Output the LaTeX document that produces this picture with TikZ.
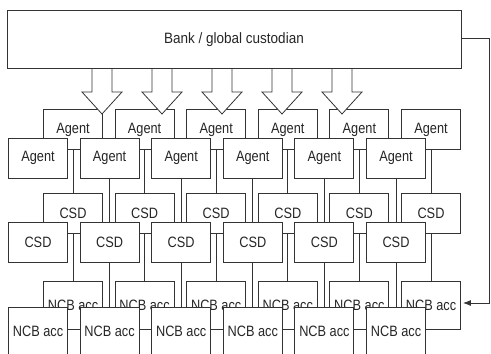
\documentclass[tikz,border=0pt]{standalone}
\usepackage{fontspec}
\newfontfamily\narrowsf[FakeStretch=0.85]{Liberation Sans}
\newfontfamily\banksf[FakeStretch=0.9]{Liberation Sans}
\usetikzlibrary{positioning,arrows.meta}

\begin{document}
\begin{tikzpicture}[x=1pt, y=-1pt, node distance=71.6pt,
                    box/.style={rectangle,draw=black!80,fill=white,line width=0.9pt,
                                minimum width=59pt,minimum height=40pt,inner sep=0pt,
                                text=black!85,font=\narrowsf\fontsize{15pt}{15pt}\selectfont},
                    tall box/.style={box,minimum height=48pt},
                    conn/.style={draw=black!80,line width=0.8pt},
                    big arrow/.style={draw=black!80,fill=white,line width=0.8pt}]

  \useasboundingbox (0,0) rectangle (491,354);

  % bank
  \node[box, minimum width=454pt, minimum height=58pt,
        font=\banksf\fontsize{15pt}{15pt}\selectfont] (bank) at (234,39.5) {Bank / global custodian};

  % agents
  \node[box] (ba1) at (73,129.5) {Agent};
  \node[box] (ba2) [right of=ba1] {Agent};
  \node[box] (ba3) [right of=ba2] {Agent};
  \node[box] (ba4) [right of=ba3] {Agent};
  \node[box] (ba5) [right of=ba4] {Agent};
  \node[box] (ba6) [right of=ba5] {Agent};
  \node[box] (fa1) at (38,158) {Agent};
  \node[box] (fa2) [right of=fa1] {Agent};
  \node[box] (fa3) [right of=fa2] {Agent};
  \node[box] (fa4) [right of=fa3] {Agent};
  \node[box] (fa5) [right of=fa4] {Agent};
  \node[box] (fa6) [right of=fa5] {Agent};

  % CSDs
  \node[box] (bc1) at (73,213.5) {CSD};
  \node[box] (bc2) [right of=bc1] {CSD};
  \node[box] (bc3) [right of=bc2] {CSD};
  \node[box] (bc4) [right of=bc3] {CSD};
  \node[box] (bc5) [right of=bc4] {CSD};
  \node[box] (bc6) [right of=bc5] {CSD};
  \node[box] (fc1) at (38,242) {CSD};
  \node[box] (fc2) [right of=fc1] {CSD};
  \node[box] (fc3) [right of=fc2] {CSD};
  \node[box] (fc4) [right of=fc3] {CSD};
  \node[box] (fc5) [right of=fc4] {CSD};
  \node[box] (fc6) [right of=fc5] {CSD};

  % NCB accounts
  \node[tall box] (bn1) at (73,305) {NCB acc};
  \node[tall box] (bn2) [right of=bn1] {NCB acc};
  \node[tall box] (bn3) [right of=bn2] {NCB acc};
  \node[tall box] (bn4) [right of=bn3] {NCB acc};
  \node[tall box] (bn5) [right of=bn4] {NCB acc};
  \node[tall box] (bn6) [right of=bn5] {NCB acc};
  \node[tall box] (fn1) at (38,331) {NCB acc};
  \node[tall box] (fn2) [right of=fn1] {NCB acc};
  \node[tall box] (fn3) [right of=fn2] {NCB acc};
  \node[tall box] (fn4) [right of=fn3] {NCB acc};
  \node[tall box] (fn5) [right of=fn4] {NCB acc};
  \node[tall box] (fn6) [right of=fn5] {NCB acc};

  \path[conn]
    (ba1) edge (bc1)  (ba2) edge (bc2)  (ba3) edge (bc3)
    (ba4) edge (bc4)  (ba5) edge (bc5)  (ba6) edge (bc6)
    (fa2) edge (fc2)  (fa3) edge (fc3)  (fa4) edge (fc4)
    (fa5) edge (fc5)  (fa6) edge (fc6)
    (bc1) edge (bn1)  (bc2) edge (bn2)  (bc3) edge (bn3)
    (bc4) edge (bn4)  (bc5) edge (bn5)  (bc6) edge (bn6)
    (fc2) edge (fn2)  (fc3) edge (fn3)  (fc4) edge (fn4)
    (fc5) edge (fn5)  (fc6) edge (fn6);

  \draw[conn,-{Latex[length=8pt,width=6pt]}] ([yshift=1.5pt]bank.east) -- ++(28,0) |- ([yshift=2pt,xshift=2pt]bn6.east);

  % big arrows from the bank
  \draw[big arrow] (92,69) -- (92,92) -- (82,92) -- (102,114) -- (122,92) -- (112,92) -- (112,69);
  \draw[big arrow] (152,69) -- (152,92) -- (142,92) -- (162,114) -- (182,92) -- (172,92) -- (172,69);
  \draw[big arrow] (212,69) -- (212,92) -- (202,92) -- (222,114) -- (242,92) -- (232,92) -- (232,69);
  \draw[big arrow] (272,69) -- (272,92) -- (262,92) -- (282,114) -- (302,92) -- (292,92) -- (292,69);
  \draw[big arrow] (332,69) -- (332,92) -- (322,92) -- (342,114) -- (362,92) -- (352,92) -- (352,69);
\end{tikzpicture}
\end{document}
